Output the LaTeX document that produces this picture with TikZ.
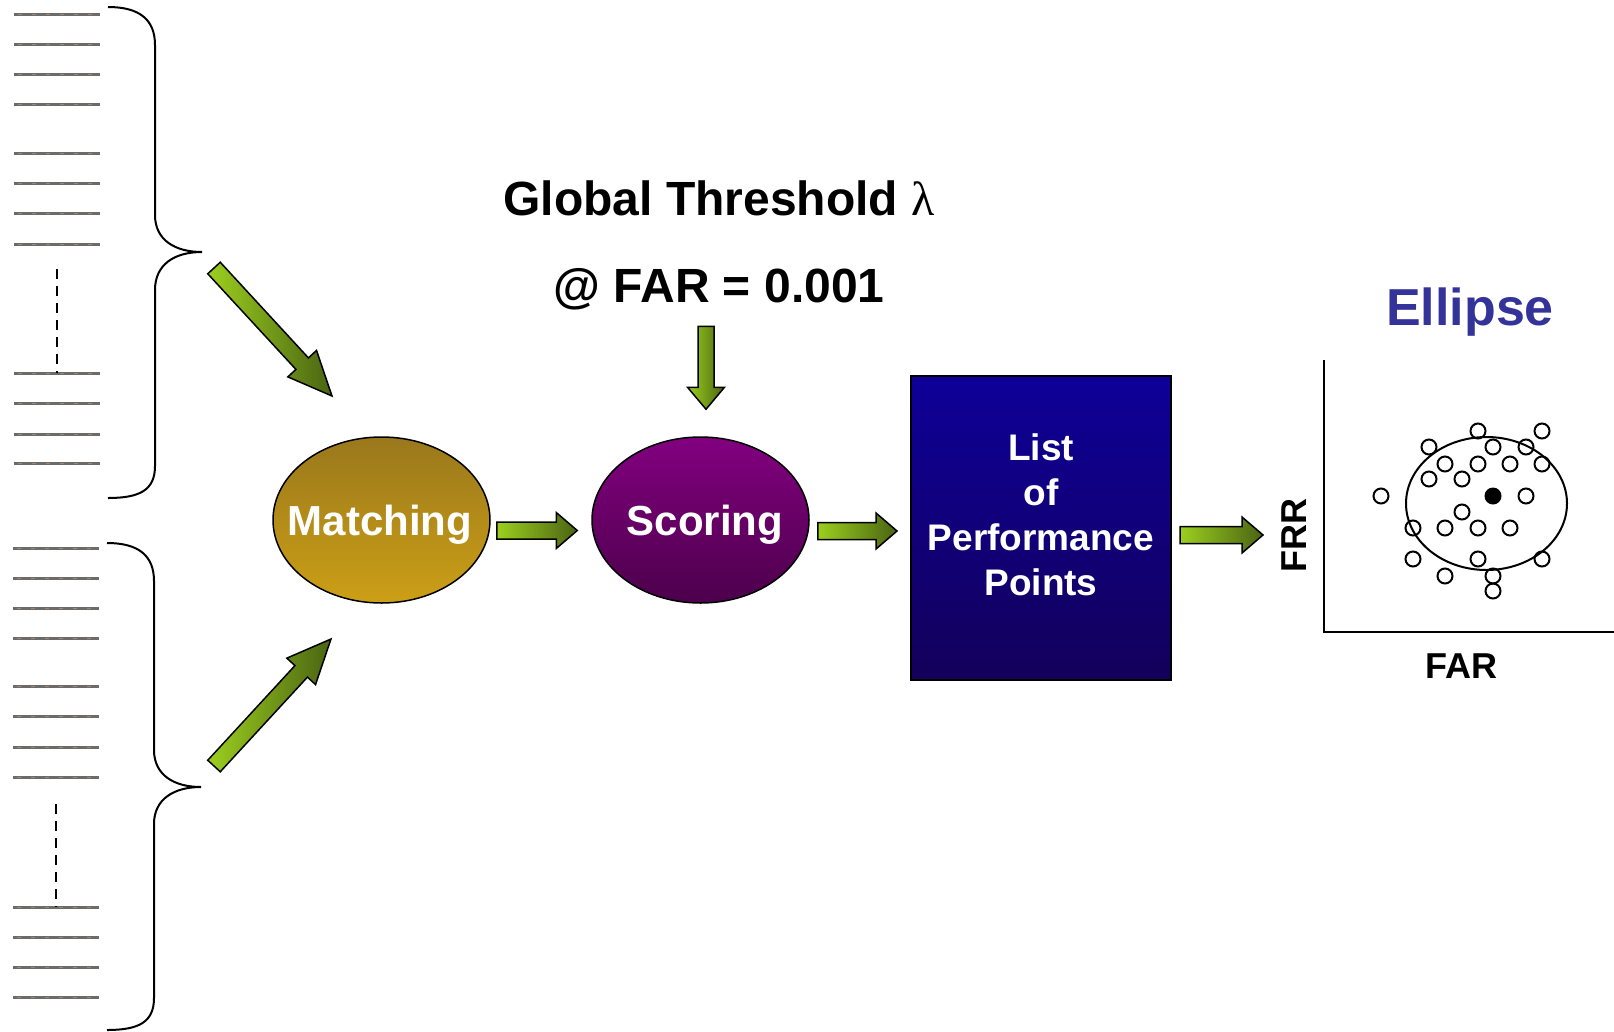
\documentclass[tikz,border=0pt]{standalone}
\usepackage{fontspec}
\setmainfont{Liberation Sans}
\newfontfamily\lamfont{Liberation Serif}
\usetikzlibrary{shapes.geometric,calc}

\definecolor{arrlight}{HTML}{9CCF1F}
\definecolor{arrdark}{HTML}{4A6412}
\definecolor{matchtop}{HTML}{9A781C}
\definecolor{matchbot}{HTML}{CC9F16}
\definecolor{scoretop}{HTML}{82007F}
\definecolor{scorebot}{HTML}{4C004C}
\definecolor{listtop}{HTML}{0E0098}
\definecolor{listbot}{HTML}{13005A}
\definecolor{ellblue}{HTML}{333399}
\definecolor{rulegray}{HTML}{6C6B6B}
\definecolor{ruletan}{HTML}{9C8678}

% block arrow from coordinate #1 to coordinate #2
% #3 head length, #4 head width, #5 shaft width
\newdimen\arrdx \newdimen\arrdy
\newcommand\blockarr[5]{%
  \pgfextractx{\arrdx}{\pgfpointdiff{\pgfpointanchor{#1}{center}}{\pgfpointanchor{#2}{center}}}%
  \pgfextracty{\arrdy}{\pgfpointdiff{\pgfpointanchor{#1}{center}}{\pgfpointanchor{#2}{center}}}%
  \pgfmathsetmacro\arrang{atan2(\arrdy,\arrdx)}%
  \pgfmathsetmacro\arrlen{veclen(\arrdx,\arrdy)}%
  \pgfmathsetmacro\arrbx{\arrlen-#3}%
  \pgfmathsetmacro\arrhw{#4/2}%
  \pgfmathsetmacro\arrhs{#5/2}%
  \shadedraw[blockarrow,shift={(#1)},rotate=\arrang]
    (0pt,-\arrhs pt) -- (\arrbx pt,-\arrhs pt) -- (\arrbx pt,-\arrhw pt)
    -- (\arrlen pt,0pt) -- (\arrbx pt,\arrhw pt) -- (\arrbx pt,\arrhs pt)
    -- (0pt,\arrhs pt) -- cycle;
}

\tikzset{
  blockarrow/.style={draw=black, line width=1.5pt, line join=miter,
    left color=arrlight, right color=arrdark},
  stage/.style={ellipse, draw=black, line width=1.5pt, inner sep=0pt,
    minimum width=217pt, minimum height=166pt},
  stagetxt/.style={text=white, inner sep=0pt, text height=30pt, text depth=0pt,
    font=\bfseries\fontsize{42}{50}\selectfont},
  headtxt/.style={inner sep=0pt, text height=34pt, text depth=0pt,
    font=\bfseries\fontsize{48}{58}\selectfont},
  listbox/.style={rectangle, draw=black, line width=2pt, inner sep=0pt,
    minimum width=260pt, minimum height=304pt, top color=listtop, bottom color=listbot},
  listtxt/.style={text=white, align=center, inner sep=0pt,
    font=\bfseries\fontsize{37}{45}\selectfont},
  axistxt/.style={inner sep=0pt, text height=26pt, text depth=0pt,
    font=\bfseries\fontsize{36}{42}\selectfont},
  rule/.style={draw=rulegray, line width=3pt},
  ruletint/.style={draw=ruletan, line width=1pt, dash pattern=on 4pt off 10pt},
  bracket/.style={draw=black, line width=2pt},
  gap/.style={draw=black, line width=2pt, dash pattern=on 10pt off 7pt},
  axisline/.style={draw=black, line width=2.5pt},
  dot/.style={draw=black, line width=2pt},
}

\begin{document}
\begin{tikzpicture}[x=1pt,y=-1pt]
\useasboundingbox[fill=white] (0,0) rectangle (1614,1031);

% ---- two stacks of record lines ----
\foreach \yy in {14,44,74,104,153,183,213,244,373,403,434,463}{
  \draw[rule] (14,\yy) -- (100,\yy);
  \draw[ruletint] (18,\yy) -- (98,\yy);
}
\foreach \yy in {548,578,608,638,686,716,747,777,907,937,967,997}{
  \draw[rule] (13,\yy) -- (99,\yy);
  \draw[ruletint] (17,\yy) -- (97,\yy);
}
\draw[gap] (57,269) -- (57,373);
\draw[gap] (56,804) -- (56,907);

% ---- curly braces ----
\coordinate (tipA) at (202,252);
\coordinate (tipB) at (201,787);
\draw[bracket] (108,7) .. controls (140,7) and (155,20) .. (155,45)
  -- (155,215) .. controls (155,240) and (175,252) .. (tipA)
  .. controls (175,252) and (155,264) .. (155,290)
  -- (155,466) .. controls (155,490) and (140,498) .. (108,498);
\draw[bracket] (107,543) .. controls (139,543) and (154,556) .. (154,581)
  -- (154,750) .. controls (154,775) and (174,787) .. (tipB)
  .. controls (174,787) and (154,799) .. (154,824)
  -- (154,998) .. controls (154,1022) and (139,1030) .. (107,1030);

% ---- processing stages ----
\node[stage, top color=matchtop, bottom color=matchbot] (match) at (381.5,520) {};
\node[stagetxt] (matchtxt) at (380,520) {Matching};
\node[stage, top color=scoretop, bottom color=scorebot] (score) at (700.5,520) {};
\node[stagetxt] (scoretxt) at (705,520) {Scoring};
\node[listbox] (list) at (1041,528) {};
\node[listtxt] (listtext) at (1041,515) {List\\of\\Performance\\Points};

% ---- threshold caption ----
\node[headtxt] (thr) at (719,198) {Global Threshold {\lamfont\mdseries λ}};
\node[headtxt] (far) at (719,285) {@ FAR = 0.001};

% ---- result plot ----
\node[inner sep=0pt, text height=38pt, text depth=0pt, text=ellblue,
  font=\bfseries\fontsize{52}{60}\selectfont] (elllabel) at (1470,306) {Ellipse};
\coordinate (origin) at (1324,632);
\draw[axisline] (1324,360) -- (origin) -- (1614,632);
\node[axistxt, rotate=90] (frr) at (1293,535.5) {FRR};
\node[axistxt] (farlabel) at (1461,665) {FAR};
\draw[dot] (1486.5,503.5) ellipse [x radius=80.5, y radius=66.5];
\foreach \p in {(1478,431),(1542,431),(1429,447),(1493,447),(1526,447),
  (1445,464),(1478,464),(1510,464),(1542,464),(1429,479),(1462,479),
  (1381,496),(1526,496),(1462,512),(1413,528),(1445,528),(1478,528),
  (1510,528),(1413,559),(1478,559),(1542,559),(1445,576),(1493,576),(1493,591)}
  \draw[dot] \p circle[radius=7.5];
\fill (1493,496) circle[radius=8.5];

% ---- flow arrows ----
\coordinate (a1s) at ($(tipA)+(12,16)$);
\coordinate (a1e) at ($(match.center)+(-49.5,-124)$);
\coordinate (a2s) at ($(tipB)+(13,-21)$);
\coordinate (a2e) at ($(match.center)+(-50.5,119)$);
\coordinate (a3s) at ($(match.east)+(6,10.5)$);
\coordinate (a3e) at ($(score.west)+(-14,10.5)$);
\coordinate (a4s) at ($(score.east)+(8,11)$);
\coordinate (a4e) at ($(list.west)+(-13,3)$);
\coordinate (a5s) at ($(list.east)+(8,7)$);
\coordinate (a5e) at ($(list.east)+(91,7)$);
\coordinate (a6s) at ($(score.north)+(5.5,-110)$);
\coordinate (a6e) at ($(score.north)+(5.5,-27)$);
\blockarr{a1s}{a1e}{44}{39}{17}
\blockarr{a2s}{a2e}{44}{39}{17}
\blockarr{a3s}{a3e}{21}{36}{17}
\blockarr{a4s}{a4e}{21}{36}{17}
\blockarr{a5s}{a5e}{21}{36}{17}
\blockarr{a6s}{a6e}{22}{37}{16}
\end{tikzpicture}
\end{document}
